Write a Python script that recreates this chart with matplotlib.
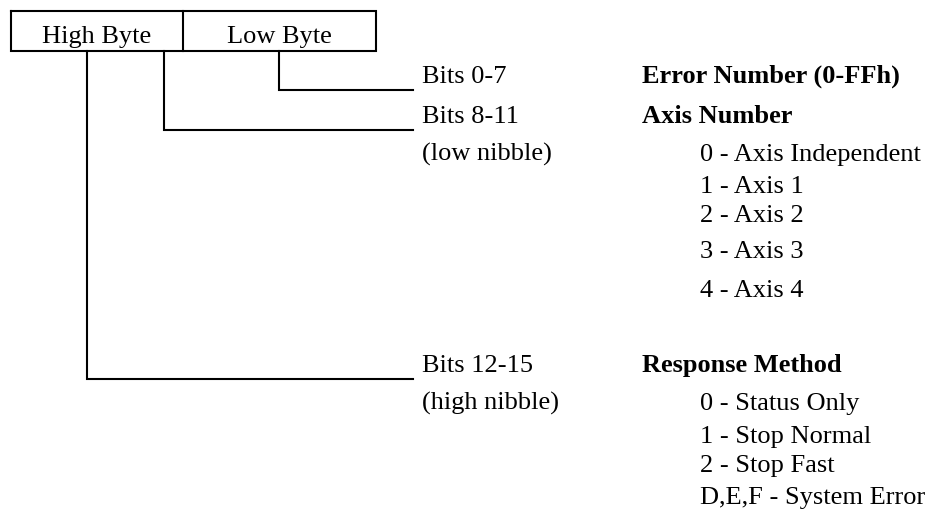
"""Error code word layout diagram"""
import matplotlib.pyplot as plt

# --- content ---
box_labels = ['High Byte', 'Low Byte']
field_bits = ['Bits 0-7', 'Bits 8-11', 'Bits 12-15']
field_notes = ['', '(low nibble)', '(high nibble)']
field_titles = ['Error Number (0-FFh)', 'Axis Number', 'Response Method']
axis_codes = ['0 - Axis Independent', '1 - Axis 1', '2 - Axis 2',
              '3 - Axis 3', '4 - Axis 4']
response_codes = ['0 - Status Only', '1 - Stop Normal', '2 - Stop Fast',
                  'D,E,F - System Error']

# --- layout (pixel coordinates, y downwards) ---
W, H = 931, 514
box_left, box_mid, box_right = 11, 183, 376
box_top, box_bottom = 11, 51
label_base = 43
conn_x = [279, 164, 87]          # vertical drop for each field
conn_y = [90, 130, 379]          # horizontal run for each field
line_end = 413
bits_x, title_x, item_x = 422, 642, 700
bits_base = [83, 123, 372]
note_base = [None, 161, 410]
axis_base = [161, 193, 222, 258, 297]
resp_base = [410, 443, 472, 504]

font = ['Liberation Serif', 'DejaVu Serif']
fs = 19
lw = 1.5

fig = plt.figure(figsize=(W / 100, H / 100), dpi=100)
ax = fig.add_axes([0, 0, 1, 1])
ax.set_xlim(0, W)
ax.set_ylim(H, 0)
ax.axis('off')

# the two-byte box
ax.plot([box_left, box_right, box_right, box_left, box_left],
        [box_top, box_top, box_bottom, box_bottom, box_top],
        color='black', lw=lw, solid_joinstyle='miter')
ax.plot([box_mid, box_mid], [box_top, box_bottom], color='black', lw=lw)
ax.text((box_left + box_mid) / 2, label_base, box_labels[0], ha='center',
        va='baseline', fontsize=fs, family=font)
ax.text((box_mid + box_right) / 2, label_base, box_labels[1], ha='center',
        va='baseline', fontsize=fs, family=font)

# connectors + field descriptions
for i in range(len(field_bits)):
    ax.plot([conn_x[i], conn_x[i], line_end], [box_bottom, conn_y[i], conn_y[i]],
            color='black', lw=lw, solid_joinstyle='miter')
    ax.text(bits_x, bits_base[i], field_bits[i], ha='left', va='baseline',
            fontsize=fs, family=font)
    if field_notes[i]:
        ax.text(bits_x, note_base[i], field_notes[i], ha='left', va='baseline',
                fontsize=fs, family=font)
    ax.text(title_x, bits_base[i], field_titles[i], ha='left', va='baseline',
            fontsize=fs, family=font, fontweight='bold')

for txt, yb in zip(axis_codes, axis_base):
    ax.text(item_x, yb, txt, ha='left', va='baseline', fontsize=fs, family=font)
for txt, yb in zip(response_codes, resp_base):
    ax.text(item_x, yb, txt, ha='left', va='baseline', fontsize=fs, family=font)

fig.savefig('out.png', dpi=100, facecolor='white')
